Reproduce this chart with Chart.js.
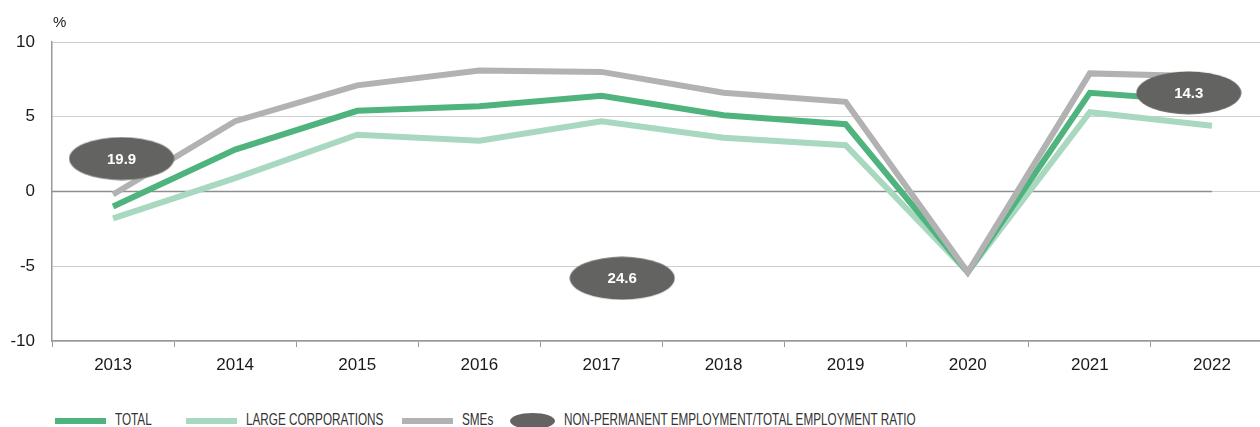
<!DOCTYPE html>
<html>
<head>
<meta charset="utf-8">
<script src="https://cdn.jsdelivr.net/npm/chart.js@4/dist/chart.umd.min.js"></script>
<style>
  html, body { margin: 0; padding: 0; background: #fff; overflow: hidden; }
  .wrap { position: relative; width: 1260px; height: 427px; overflow: hidden; }
  #myChart { position: absolute; left: 0; top: 0; }
  .unit { position: absolute; left: 53px; top: 13px; font: 15px "Liberation Sans", Arial, sans-serif; color: #222; }
  .legend { position: absolute; left: 0; top: 411px; height: 18px; width: 1260px;
    font: 17px "Liberation Sans", Arial, sans-serif; color: #333; }
  .legend span { position: absolute; top: 0; line-height: 18px; white-space: nowrap;
    transform: scaleX(0.69); transform-origin: 0 50%; }
  .legend i { position: absolute; display: block; }
</style>
</head>
<body>
<div class="wrap">
  <canvas id="myChart" width="1296" height="380"></canvas>
  <div class="unit">%</div>
  <div class="legend" id="legend"></div>
</div>
<script>
// data
const years = ["2013", "2014", "2015", "2016", "2017", "2018", "2019", "2020", "2021", "2022"];
const total = [-1.0, 2.8, 5.4, 5.7, 6.4, 5.1, 4.5, -5.4, 6.6, 6.0];
const largeCorp = [-1.8, 0.9, 3.8, 3.4, 4.7, 3.6, 3.1, -5.4, 5.3, 4.4];
const smes = [-0.2, 4.7, 7.1, 8.1, 8.0, 6.6, 6.0, -5.4, 7.9, 7.7];
// non-permanent employment ratio callouts
const ratioValues = [19.9, 24.6, 14.3];
const ratioX = [0.07, 4.17, 8.81];
const ratioY = [2.2, -5.8, 6.6];

const colTotal = "#4fb37d";
const colLarge = "#a9d8c1";
const colSme = "#b2b2b2";
const colRatio = "#636361";

// ellipse image used as point style
function ellipseImg(w, h) {
  const c = document.createElement("canvas");
  c.width = w; c.height = h;
  const g = c.getContext("2d");
  g.fillStyle = colRatio;
  g.beginPath();
  g.ellipse(w / 2, h / 2, w / 2 - 0.5, h / 2 - 0.5, 0, 0, Math.PI * 2);
  g.fill();
  return c;
}
const bigEllipse = ellipseImg(106, 44);

// darker zero line that stops at the last year
const zeroLine = {
  id: "zeroLine",
  beforeDatasetsDraw(chart) {
    const { ctx, chartArea, scales } = chart;
    const y0 = scales.y.getPixelForValue(0);
    const xEnd = scales.x.getPixelForValue(years.length - 1);
    ctx.save();
    ctx.strokeStyle = "#8e8e8e";
    ctx.lineWidth = 1.5;
    ctx.beginPath();
    ctx.moveTo(chartArea.left, y0);
    ctx.lineTo(xEnd, y0);
    ctx.stroke();
    ctx.restore();
  }
};

const ratioLabels = {
  id: "ratioLabels",
  afterDatasetsDraw(chart) {
    const meta = chart.getDatasetMeta(3);
    const ctx = chart.ctx;
    ctx.save();
    ctx.fillStyle = "#fff";
    ctx.font = "bold 15px 'Liberation Sans', Arial, sans-serif";
    ctx.textAlign = "center";
    ctx.textBaseline = "middle";
    meta.data.forEach((pt, i) => {
      ctx.fillText(ratioValues[i].toFixed(1), pt.x, pt.y + 1);
    });
    ctx.restore();
  }
};

const ctx = document.getElementById("myChart");
new Chart(ctx, {
  type: "line",
  data: {
    labels: years,
    datasets: [
      { label: "TOTAL", data: total, borderColor: colTotal, borderWidth: 6, pointRadius: 0, order: 2 },
      { label: "LARGE CORPORATIONS", data: largeCorp, borderColor: colLarge, borderWidth: 6, pointRadius: 0, order: 3 },
      { label: "SMEs", data: smes, borderColor: colSme, borderWidth: 6, pointRadius: 0, order: 1 },
      {
        type: "scatter",
        label: "NON-PERMANENT EMPLOYMENT/TOTAL EMPLOYMENT RATIO",
        data: ratioValues.map((v, i) => ({ x: ratioX[i], y: ratioY[i] })),
        xAxisID: "x2",
        pointStyle: bigEllipse,
        pointRadius: 22,
        order: 0
      }
    ]
  },
  options: {
    responsive: false,
    animation: false,
    events: [],
    layout: { padding: { top: 42, right: 8, left: 0, bottom: 0 } },
    plugins: { legend: { display: false }, tooltip: { enabled: false } },
    scales: {
      x: {
        offset: true,
        grid: { display: true, drawOnChartArea: false, drawTicks: true, tickLength: 6, color: "#999", offset: true },
        border: { display: true, color: "#999", width: 1.5 },
        ticks: { color: "#1a1a1a", padding: 8, font: { size: 17, family: "'Liberation Sans', Arial, sans-serif" }, maxRotation: 0 },
        afterFit(scale) { scale.height = 39; }
      },
      x2: {
        type: "linear",
        display: false,
        min: -0.5,
        max: 9.5
      },
      y: {
        min: -10,
        max: 10,
        ticks: { stepSize: 5, color: "#1a1a1a", padding: 17, font: { size: 17, family: "'Liberation Sans', Arial, sans-serif" } },
        grid: { drawTicks: false, color: "#cfcfcf", lineWidth: 1 },
        border: { display: true, color: "#999", width: 1.5 },
        afterFit(scale) { scale.width = 52; }
      }
    }
  },
  plugins: [zeroLine, ratioLabels]
});

// legend
const legendItems = [
  { text: "TOTAL", color: colTotal, kind: "line", x: 55 },
  { text: "LARGE CORPORATIONS", color: colLarge, kind: "line", x: 186 },
  { text: "SMEs", color: colSme, kind: "line", x: 402 },
  { text: "NON-PERMANENT EMPLOYMENT/TOTAL EMPLOYMENT RATIO", color: colRatio, kind: "ellipse", x: 510 }
];
const legend = document.getElementById("legend");
legendItems.forEach((it) => {
  const sw = document.createElement("i");
  if (it.kind === "line") {
    sw.style.cssText = `left:${it.x}px;top:7px;width:51px;height:6px;background:${it.color}`;
  } else {
    sw.style.cssText = `left:${it.x}px;top:2px;width:45px;height:16px;border-radius:50%;background:${it.color}`;
  }
  legend.appendChild(sw);
  const t = document.createElement("span");
  t.textContent = it.text;
  t.style.left = (it.x + (it.kind === "line" ? 60 : 54)) + "px";
  legend.appendChild(t);
});
</script>
</body>
</html>
